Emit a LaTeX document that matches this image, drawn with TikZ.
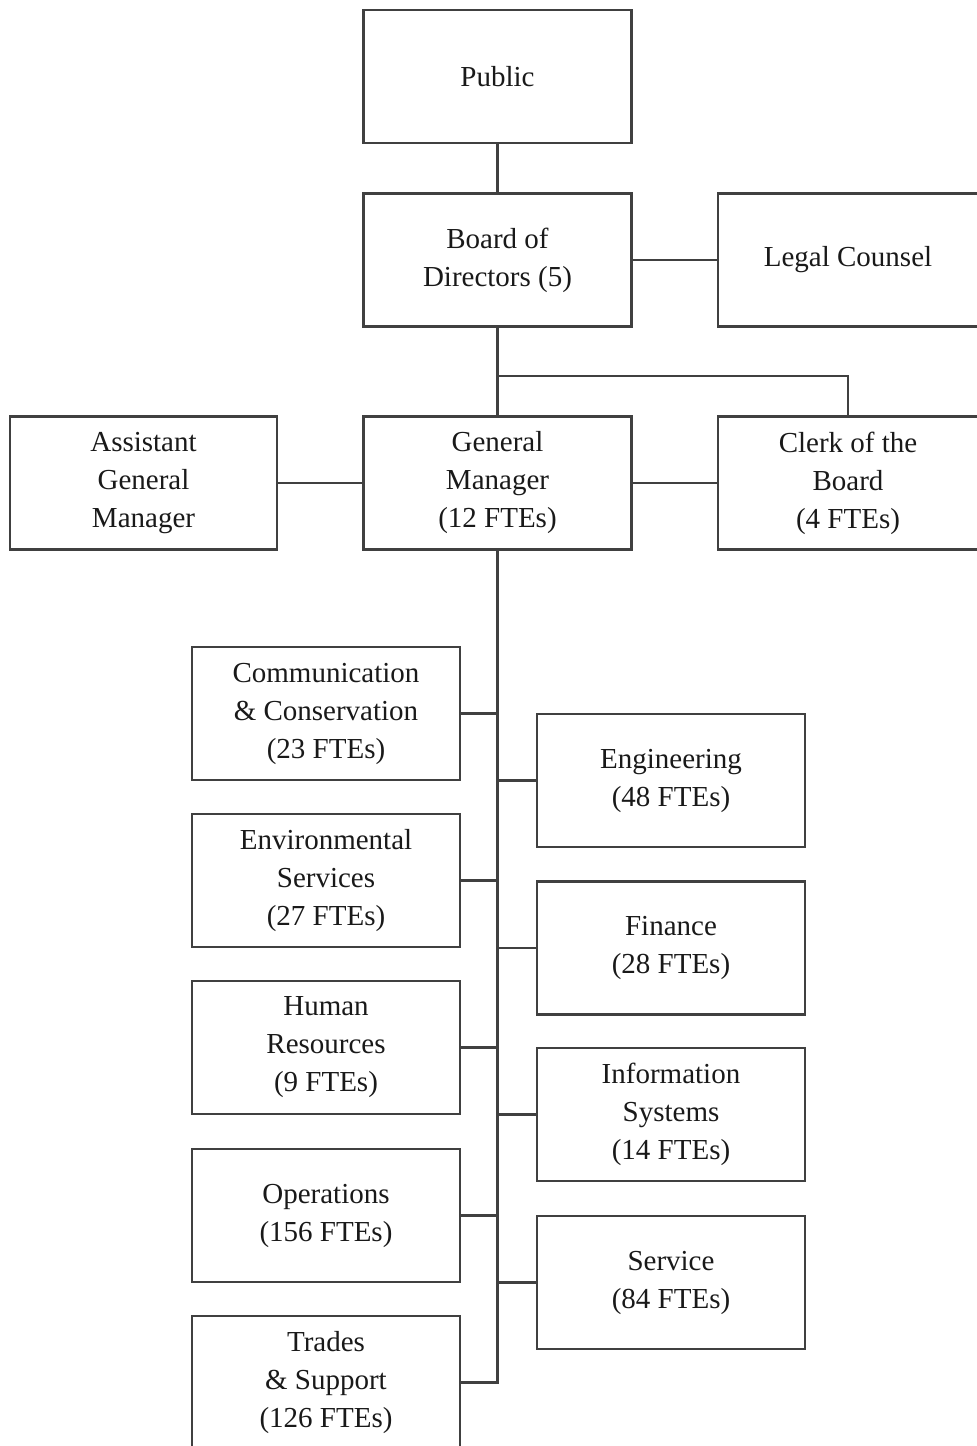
\documentclass[tikz,border=0pt]{standalone}
\usepackage{fontspec}
\setmainfont{Liberation Serif}
\usetikzlibrary{positioning}
\newcommand{\boxwd}{268pt}
\newcommand{\boxht}{133pt}

\begin{document}
\begin{tikzpicture}[x=1pt,y=-1pt,
    unit/.style={draw=black!75, line width=2.4pt, rectangle, align=center,
      minimum width=\boxwd, minimum height=\boxht, inner sep=0pt,
      text=black!90, font=\fontsize{29}{38}\selectfont},
    link/.style={draw=black!75, line width=2.4pt}]

        \useasboundingbox (0,0) rectangle (977,1446);
        \clip (0,0) rectangle (977,1446);

          % top of the chart
        \node (public) at (497.5,76.5) [unit] {Public};
        \node (board) at (497.5,260) [unit] {Board of\\Directors (5)};
        \node (legal) at (848,260) [unit, minimum width=260pt] {Legal Counsel};

        \node (gm) at (497.5,483) [unit] {General\\Manager\\(12 FTEs)};
        \node (agm) at (143.5,483) [unit, minimum width=267pt] {Assistant\\General\\Manager};
        \node (clerk) at (848,483) [unit, minimum width=260pt] {Clerk of the\\Board\\(4 FTEs)};

        \coordinate (split) at (497.5,376);

        \draw[link] (public) to (board);
        \draw[link] (board) to (legal);
        \draw[link] (board) to (gm);
        \draw[link] (split) -| (clerk);
        \draw[link] (agm) to (gm) to (clerk);

          % departments, left column
        \node (comm) at (326,713.5) [unit] {Communication\\\& Conservation\\(23 FTEs)};
        \node (env) at (326,880.5) [unit] {Environmental\\Services\\(27 FTEs)};
        \node (hr) at (326,1047.5) [unit] {Human\\Resources\\(9 FTEs)};
        \node (ops) at (326,1215.5) [unit] {Operations\\(156 FTEs)};
        \node (trades) at (326,1382.5) [unit] {Trades\\\& Support\\(126 FTEs)};

          % departments, right column
        \node (eng) at (671,780.5) [unit] {Engineering\\(48 FTEs)};
        \node (fin) at (671,948) [unit] {Finance\\(28 FTEs)};
        \node (is) at (671,1114.5) [unit] {Information\\Systems\\(14 FTEs)};
        \node (serv) at (671,1282.5) [unit] {Service\\(84 FTEs)};

        \draw[link] (gm.south) -- (gm.south |- trades.east) -- (trades.east);
        \foreach \d in {comm,env,hr,ops,eng,fin,is,serv}
          \draw[link] (\d) -- (\d -| gm.south);

        \end{tikzpicture}
\end{document}
